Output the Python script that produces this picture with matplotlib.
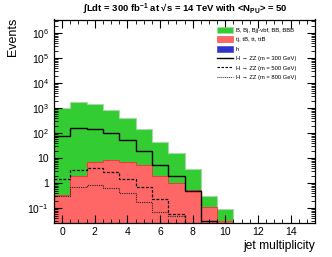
import numpy as np
import matplotlib
matplotlib.use("Agg")
import matplotlib.pyplot as plt
from matplotlib.ticker import FuncFormatter, FixedLocator, MultipleLocator
from matplotlib.patches import Patch
from matplotlib.lines import Line2D

plt.rcParams["font.family"] = ["Liberation Sans", "DejaVu Sans"]
plt.rcParams["mathtext.fontset"] = "custom"
plt.rcParams["mathtext.rm"] = "Liberation Sans"
plt.rcParams["mathtext.default"] = "regular"

# bin centres 0..15 (jet multiplicity)
njets = np.arange(0, 16)
edges = np.arange(-0.5, 16.0, 1.0)

# stacked backgrounds
bkg_B = [1000, 1740, 1440, 860, 383, 143, 43, 15, 3.2, 0.21, 0.058, 0, 0, 0, 0, 0]
bkg_top = [0.34, 1.95, 7.1, 8.5, 7.1, 5.4, 1.95, 1.0, 0.54, 0.11, 0.032, 0, 0, 0, 0, 0]
bkg_h = [0, 0, 0, 0, 0, 0, 0, 0, 0, 0, 0, 0, 0, 0, 0, 0]

# signal H -> ZZ
sig_300 = [78, 155, 150, 100, 54, 20, 5.6, 1.9, 0.5, 0.03, 0, 0, 0, 0, 0, 0]
sig_500 = [1.5, 3.5, 4.0, 2.7, 1.5, 0.7, 0.23, 0.06, 0, 0, 0, 0, 0, 0, 0, 0]
sig_800 = [0.3, 0.69, 0.85, 0.67, 0.4, 0.18, 0.069, 0.05, 0, 0, 0, 0, 0, 0, 0, 0]

labels = ["B, Bj, Bjj-vbf, BB, BBB", "tj, tB, tt, ttB", "h",
          "H \u2192 ZZ (m = 300 GeV)", "H \u2192 ZZ (m = 500 GeV)",
          "H \u2192 ZZ (m = 800 GeV)"]

c_green, c_red, c_blue = "#33cc33", "#ff6666", "#3333cc"

fig = plt.figure(figsize=(3.32, 2.57), dpi=100)
ax = fig.add_axes([54 / 332, 1 - 222.7 / 257, 261 / 332, 203.2 / 257])

floor = 1e-4
h = np.array(bkg_h, float)
top = h + np.array(bkg_top, float)
tot = top + np.array(bkg_B, float)
ax.stairs(np.maximum(h, floor), edges, baseline=floor, fill=True, color=c_blue)
ax.stairs(np.maximum(top, floor), edges, baseline=np.maximum(h, floor), fill=True, color=c_red)
ax.stairs(np.maximum(tot, floor), edges, baseline=np.maximum(top, floor), fill=True, color=c_green)
ax.stairs(tot, edges, baseline=None, color="#a8d8a8", lw=0.8)
ax.stairs(top, edges, baseline=None, color="#ee3333", lw=0.6)

ax.stairs(sig_300, edges, baseline=None, color="black", lw=1.0)
ax.stairs(sig_500, edges, baseline=None, color="black", lw=0.9, linestyle=(0, (2.2, 1.4)))
ax.stairs(sig_800, edges, baseline=None, color="#222222", lw=0.8, linestyle=(0, (1, 1)))

ax.set_yscale("log")
ax.set_xlim(-0.5, 15.5)
ax.set_ylim(0.0265, 3.5e6)

ax.xaxis.set_major_locator(MultipleLocator(2))
ax.xaxis.set_minor_locator(MultipleLocator(0.5))
ax.yaxis.set_major_locator(FixedLocator([10.0 ** e for e in range(-1, 7)]))
ax.yaxis.set_minor_locator(FixedLocator(
    [m * 10.0 ** e for e in range(-2, 7) for m in range(2, 10)
     if 0.0265 < m * 10.0 ** e < 3.5e6]))


def yfmt(v, pos):
    e = int(round(np.log10(v)))
    if e == 0:
        return "1"
    if e == 1:
        return "10"
    return r"$10^{%d}$" % e


ax.yaxis.set_major_formatter(FuncFormatter(yfmt))
ax.yaxis.set_minor_formatter(FuncFormatter(lambda v, p: ""))
ax.tick_params(which="both", direction="in", top=True, right=True, labelsize=7.5)
ax.tick_params(which="major", length=6, width=0.8)
ax.tick_params(which="minor", length=3, width=0.6)
ax.tick_params(axis="x", pad=3)
for s in ax.spines.values():
    s.set_linewidth(0.9)

ax.set_xlabel("jet multiplicity", fontsize=8.7, loc="right", labelpad=2)
ax.set_ylabel("Events", fontsize=9, loc="top")
ax.yaxis.set_label_coords(-0.134, 1.008)

fig.text(185 / 332, 1 - 8 / 257,
         "$\\int$Ldt = 300 fb$^{-1}$ at \u221as = 14 TeV with <N$_{PU}$> = 50",
         ha="center", va="center", fontsize=6.8, fontweight="bold")

handles = [Patch(facecolor=c_green, edgecolor="#a8d8a8", lw=0.4),
           Patch(facecolor=c_red, edgecolor="#ee3333", lw=0.4),
           Patch(facecolor=c_blue, edgecolor=c_blue, lw=0.4),
           Line2D([], [], color="black", lw=1.0),
           Line2D([], [], color="black", lw=0.8, linestyle=(0, (2.2, 1.4))),
           Line2D([], [], color="#222222", lw=0.7, linestyle=(0, (1, 1)))]
ax.legend(handles, labels, loc="upper left", bbox_to_anchor=(217 / 332, 1 - 27 / 257),
          bbox_transform=fig.transFigure, frameon=False, fontsize=4.2,
          handlelength=2.8, handleheight=1.2, handletextpad=0.45,
          labelspacing=0.6, borderpad=0, borderaxespad=0)

fig.savefig("out.png", dpi=100)
